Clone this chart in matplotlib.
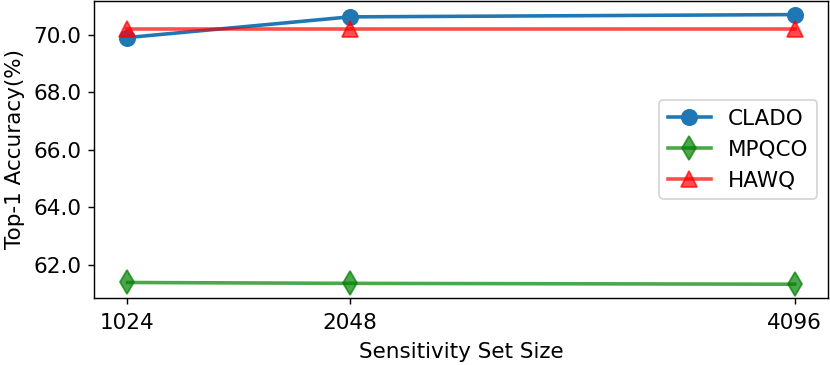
import matplotlib.pyplot as plt

set_sizes = [1024, 2048, 4096]
clado = [69.91, 70.63, 70.71]
mpqco = [61.38, 61.35, 61.32]
hawq = [70.21, 70.21, 70.21]

plt.rcParams['font.size'] = 12

dpi = 129
fig, ax = plt.subplots(figsize=(830 / dpi, 365 / dpi), dpi=dpi)
fig.subplots_adjust(left=0.1133, right=0.9976, bottom=0.1844, top=0.997)

ax.plot(set_sizes, clado, color='tab:blue', marker='o', markersize=8.5, linewidth=2, label='CLADO')
ax.plot(set_sizes, mpqco, color='g', marker='d', markersize=9.5, linewidth=2, alpha=0.7, label='MPQCO')
ax.plot(set_sizes, hawq, color='r', marker='^', markersize=8.5, linewidth=2, alpha=0.7, label='HAWQ')

ax.set_xticks(set_sizes)
ax.set_xticklabels([str(s) for s in set_sizes])
ax.tick_params(axis='x', pad=5)
ax.set_yticks([62, 64, 66, 68, 70])
ax.set_yticklabels(['62.0', '64.0', '66.0', '68.0', '70.0'])
ax.set_xlabel('Sensitivity Set Size', labelpad=5)
ax.set_ylabel('Top-1 Accuracy(%)', labelpad=5)
ax.legend(loc='center right')

fig.savefig('out.png', dpi=dpi)
